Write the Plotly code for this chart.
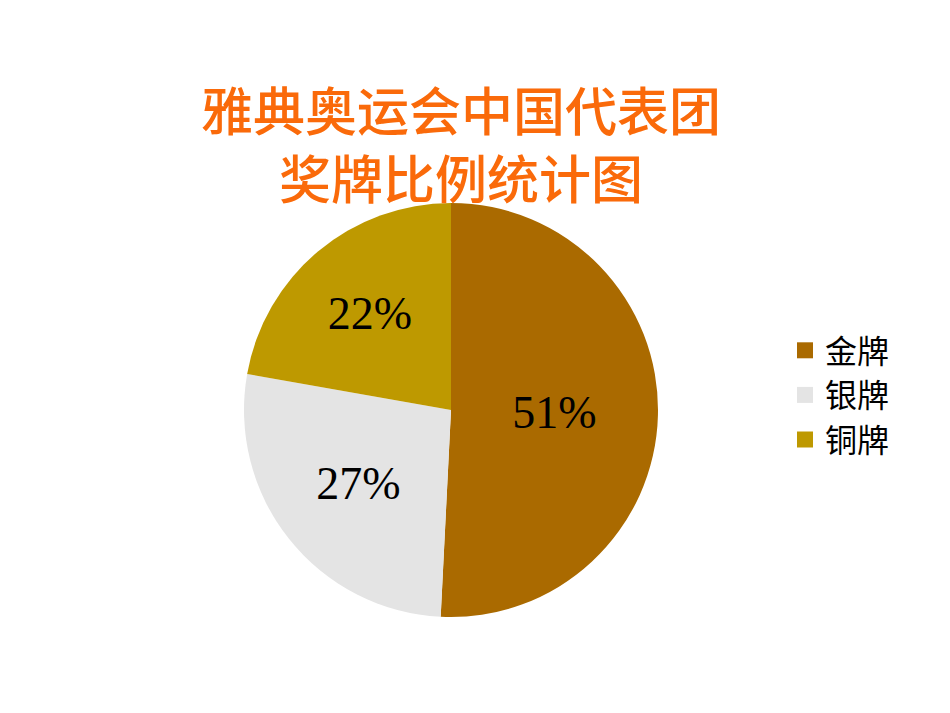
import plotly.graph_objects as go

labels = ["金牌", "银牌", "铜牌"]
medals = [32, 17, 14]
colors = ["#AA6A00", "#E4E4E4", "#BE9900"]

fig = go.Figure()
fig.add_trace(go.Pie(
    labels=labels,
    values=medals,
    sort=False,
    direction="clockwise",
    rotation=0,
    marker=dict(colors=colors, line=dict(width=0)),
    textinfo="percent",
    texttemplate="%{percent:.0%}",
    textposition="inside",
    insidetextorientation="horizontal",
    textfont=dict(family="Liberation Serif", size=46, color="black"),
    domain=dict(x=[236/950, 650/950], y=[(713-609)/713, (713-195)/713]),
    hoverinfo="label+percent",
    showlegend=False,
))

# legend entries (larger square swatches)
for lab, col in zip(labels, colors):
    fig.add_trace(go.Scatter(
        x=[None], y=[None], mode="markers", name=lab,
        marker=dict(symbol="square", size=20, color=col),
        showlegend=True, hoverinfo="skip",
    ))

fig.update_layout(
    width=950, height=713,
    margin=dict(l=0, r=0, t=0, b=0),
    paper_bgcolor="white",
    plot_bgcolor="white",
    xaxis=dict(visible=False),
    yaxis=dict(visible=False),
    title=dict(
        text="雅典奥运会中国代表团<br>奖牌比例统计图",
        x=453/950, xanchor="center",
        y=1 - 123/713, yanchor="top",
        font=dict(family="Noto Sans CJK SC", size=52, color="#FA6A0A", weight=500),
    ),
    showlegend=True,
    legend=dict(
        x=777/950, xanchor="left",
        y=1 - 387/713, yanchor="middle",
        font=dict(family="Noto Sans CJK SC", size=32, color="black"),
        bgcolor="rgba(0,0,0,0)",
        itemwidth=30,
        itemsizing="trace",
        tracegroupgap=0,
    ),
)

fig.write_html("out.html")
